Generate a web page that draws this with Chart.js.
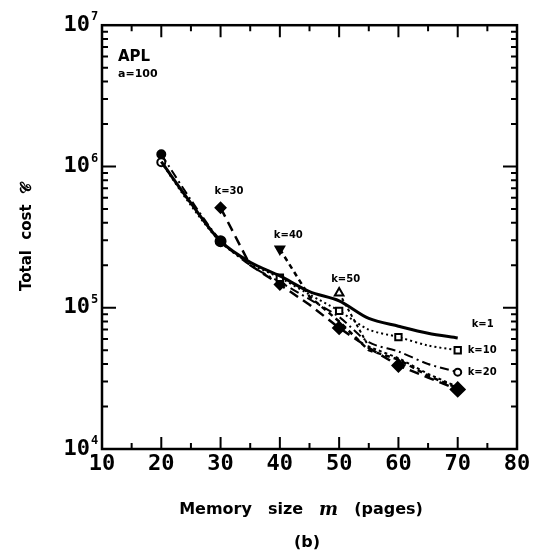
<!DOCTYPE html>
<html>
<head>
<meta charset="utf-8">
<script src="https://cdn.jsdelivr.net/npm/chart.js@4.4.1/dist/chart.umd.min.js"></script>
<style>
  html, body { margin: 0; padding: 0; background: #ffffff; }
  #wrap { width: 534px; height: 554px; position: relative; }
</style>
</head>
<body>
<div id="wrap"><canvas id="chart" width="534" height="554"></canvas></div>
<script>
// Memory size m (pages) at which the total cost was evaluated
const memory = [20, 25, 30, 35, 40, 45, 50, 55, 60, 65, 70];

// Total cost for each lookahead k (APL, a = 100)
const costK1  = [1.08e6, 5.5e5, 2.96e5, 2.1e5, 1.68e5, 1.3e5, 1.12e5, 8.4e4, 7.4e4, 6.6e4, 6.1e4];
const costK10 = [1.07e6, 5.3e5, 2.92e5, 2.05e5, 1.63e5, 1.24e5, 9.5e4, 7.0e4, 6.2e4, 5.4e4, 5.0e4];
const costK20 = [1.22e6, 5.8e5, 3.0e5, 2.0e5, 1.52e5, 1.15e5, 8.6e4, 5.7e4, 4.9e4, 4.0e4, 3.5e4];
const costK30 = [null, null, 5.1e5, 2.0e5, 1.46e5, 1.05e5, 7.2e4, 5.2e4, 3.9e4, 3.2e4, 2.64e4];
const costK40 = [null, null, null, null, 2.6e5, 1.2e5, 8.0e4, 5.0e4, 4.3e4, 3.3e4, 2.7e4];
const costK50 = [null, null, null, null, null, null, 1.27e5, 5.3e4, 4.4e4, 3.4e4, 2.75e4];

// Axis ticks
const memoryTicks = [10, 20, 30, 40, 50, 60, 70, 80];
const decadeTicks = [1e4, 1e5, 1e6, 1e7];

function points(values) {
  const out = [];
  values.forEach((v, i) => { if (v !== null) out.push({ x: memory[i], y: v }); });
  return out;
}

// marker helper: { m: [style, radius, filled, rotation] } keyed by memory size
function markers(values, spec) {
  const pts = points(values);
  return {
    pointStyle: pts.map(p => spec[p.x] ? spec[p.x][0] : 'circle'),
    pointRadius: pts.map(p => spec[p.x] ? spec[p.x][1] : 0),
    pointBackgroundColor: pts.map(p => spec[p.x] && spec[p.x][2] ? '#000' : '#fff'),
    pointRotation: pts.map(p => spec[p.x] && spec[p.x][3] ? spec[p.x][3] : 0),
    pointBorderWidth: 2,
    pointBorderColor: '#000'
  };
}

const series = [
  { label: 'k=1',  values: costK1,  width: 3,   dash: [],            tension: 0.3,
    mk: { 30: ['circle', 5, true] } },
  { label: 'k=10', values: costK10, width: 2,   dash: [2, 3],        tension: 0.3,
    mk: { 20: ['circle', 4, false], 40: ['rect', 4.5, false], 50: ['rect', 4.5, false], 60: ['rect', 4.5, false], 70: ['rect', 4.5, false] } },
  { label: 'k=20', values: costK20, width: 2,   dash: [9, 4, 2, 4],  tension: 0.3,
    mk: { 20: ['circle', 4, true], 70: ['circle', 3.5, false] } },
  { label: 'k=30', values: costK30, width: 2.5, dash: [10, 6],       tension: 0,
    mk: { 30: ['rectRot', 5, true], 40: ['rectRot', 5, true], 50: ['rectRot', 6, true], 60: ['rectRot', 6, true], 70: ['rectRot', 7, true] } },
  { label: 'k=40', values: costK40, width: 2.5, dash: [5, 4],        tension: 0,
    mk: { 40: ['triangle', 5, true, 180] } },
  { label: 'k=50', values: costK50, width: 2,   dash: [3, 3],        tension: 0,
    mk: { 50: ['triangle', 5, false] } }
];

const datasets = series.map(s => Object.assign({
  label: s.label,
  data: points(s.values),
  borderColor: '#000',
  borderWidth: s.width,
  borderDash: s.dash,
  tension: s.tension,
  fill: false
}, markers(s.values, s.mk)));

// Frame, inward tick marks, decade exponents and text annotations
const paperPlugin = {
  id: 'paper',
  afterDraw(chart) {
    const ctx = chart.ctx;
    const xs = chart.scales.x, ys = chart.scales.y;
    const a = chart.chartArea;
    ctx.save();
    ctx.strokeStyle = '#000';
    ctx.lineWidth = 2.5;
    ctx.strokeRect(a.left, a.top, a.right - a.left, a.bottom - a.top);

    // x ticks every 5 pages, longer at multiples of 10
    ctx.lineWidth = 2;
    for (let m = 15; m < 80; m += 5) {
      const px = xs.getPixelForValue(m);
      const len = (m % 10 === 0) ? 12 : 6;
      ctx.beginPath();
      ctx.moveTo(px, a.bottom); ctx.lineTo(px, a.bottom - len);
      ctx.moveTo(px, a.top);    ctx.lineTo(px, a.top + len);
      ctx.stroke();
    }
    // y ticks: 2..9 per decade, longer at the decades
    for (let e = 4; e < 7; e++) {
      for (let d = 1; d <= 9; d++) {
        const v = d * Math.pow(10, e);
        if (d === 1 && e === 4) continue;
        const py = ys.getPixelForValue(v);
        const len = d === 1 ? 14 : 6;
        ctx.beginPath();
        ctx.moveTo(a.left, py);  ctx.lineTo(a.left + len, py);
        ctx.moveTo(a.right, py); ctx.lineTo(a.right - len, py);
        ctx.stroke();
      }
    }

    ctx.fillStyle = '#000';
    ctx.textBaseline = 'middle';

    // exponents of the decade labels
    ctx.textAlign = 'left';
    ctx.font = 'bold 12px "DejaVu Sans Mono"';
    decadeTicks.forEach(v => {
      const py = ys.getPixelForValue(v);
      ctx.fillText(String(Math.round(Math.log10(v))), a.left - 11, py - 8);
    });

    // panel caption
    ctx.font = 'bold 15px "DejaVu Sans"';
    ctx.fillText('APL', a.left + 16, 57);
    ctx.font = 'bold 11px "DejaVu Sans"';
    ctx.fillText('a=100', a.left + 16, 74);

    // curve labels anchored to the data points
    ctx.font = 'bold 10px "DejaVu Sans"';
    const at = (m, v) => [xs.getPixelForValue(m), ys.getPixelForValue(v)];
    let p;
    p = at(30, costK30[2]); ctx.fillText('k=30', p[0] - 6, p[1] - 16);
    p = at(40, costK40[4]); ctx.fillText('k=40', p[0] - 6, p[1] - 14);
    p = at(50, costK50[6]); ctx.fillText('k=50', p[0] - 8, p[1] - 14);
    p = at(70, costK1[10]);  ctx.fillText('k=1',  p[0] + 14, p[1] - 14);
    p = at(70, costK10[10]); ctx.fillText('k=10', p[0] + 10, p[1]);
    p = at(70, costK20[10]); ctx.fillText('k=20', p[0] + 10, p[1]);

    // axis titles
    const words = [['Memory', false], ['size', false], ['m', true], ['(pages)', false]];
    const gap = 16;
    let total = 0;
    const widths = words.map(w => {
      ctx.font = w[1] ? 'bold italic 18px "DejaVu Serif"' : 'bold 16px "DejaVu Sans"';
      const wd = ctx.measureText(w[0]).width;
      total += wd;
      return wd;
    });
    total += gap * (words.length - 1);
    let x = 301 - total / 2;
    words.forEach((w, i) => {
      ctx.font = w[1] ? 'bold italic 18px "DejaVu Serif"' : 'bold 16px "DejaVu Sans"';
      ctx.fillText(w[0], x, 510);
      x += widths[i] + gap;
    });
    ctx.textAlign = 'center';
    ctx.font = 'bold 16px "DejaVu Sans"';
    ctx.fillText('(b)', 307, 543);

    ctx.translate(27, 237);
    ctx.rotate(-Math.PI / 2);
    ctx.font = 'bold 15px "DejaVu Sans"';
    ctx.fillText('Total  cost  \u{1D49E}', 0, 0);
    ctx.restore();
  }
};

new Chart(document.getElementById('chart'), {
  type: 'line',
  data: { datasets },
  options: {
    responsive: false,
    animation: false,
    events: [],
    layout: { padding: { left: 0, top: 25, right: 17, bottom: 0 } },
    plugins: { legend: { display: false }, tooltip: { enabled: false } },
    scales: {
      x: {
        type: 'linear',
        min: 10, max: 80,
        afterFit(scale) { scale.height = 105; },
        afterBuildTicks(scale) { scale.ticks = memoryTicks.map(v => ({ value: v })); },
        grid: { display: false, drawTicks: false },
        border: { display: false },
        ticks: {
          padding: 2,
          color: '#000',
          font: { family: '"DejaVu Sans Mono"', weight: 'bold', size: 22 },
          callback: v => String(v)
        }
      },
      y: {
        type: 'logarithmic',
        min: 1e4, max: 1e7,
        afterFit(scale) { scale.width = 102; },
        afterBuildTicks(scale) { scale.ticks = decadeTicks.map(v => ({ value: v })); },
        grid: { display: false, drawTicks: false },
        border: { display: false },
        ticks: {
          padding: 12,
          color: '#000',
          font: { family: '"DejaVu Sans Mono"', weight: 'bold', size: 22 },
          callback: () => '10'
        }
      }
    }
  },
  plugins: [paperPlugin]
});
</script>
</body>
</html>
